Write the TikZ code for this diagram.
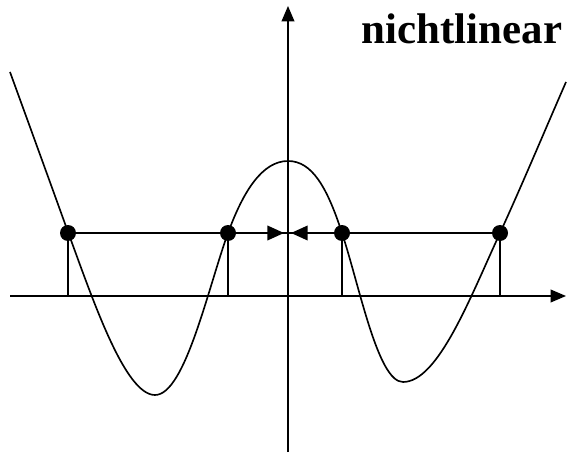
\documentclass[tikz,border=0pt]{standalone}
\usepackage{fontspec}
\setmainfont{Liberation Serif}
\usepackage{tikz}
\usetikzlibrary{arrows.meta}

\begin{document}
\begin{tikzpicture}[
                x=0.03cm, y=-0.03cm,
                axis/.style={-{Triangle[length=0.46cm, width=0.38cm]}, line width=1.4pt},
                curve/.style={line width=1.4pt},
                level/.style={line width=1.3pt},
                push/.style={-{Triangle[length=0.5cm, width=0.44cm]}, line width=1.4pt},
                dot/.style={circle, fill=black, inner sep=0pt, minimum size=0.48cm},
                title/.style={font=\bfseries\fontsize{36.6}{40}\selectfont, anchor=base}
            ]
                \useasboundingbox (0,0) rectangle (567,455);

                % Axes
                \coordinate (xl) at (10,296);
                \coordinate (xr) at (566,296);
                \coordinate (yb) at (288,452);
                \coordinate (yt) at (288,6);
                \draw[axis] (xl) -- (xr);
                \draw[axis] (yb) -- (yt);

                % Nonlinear curve
                \draw[curve] (10,72) .. controls (30,127) and (50,182) .. (68,232)
                    .. controls (93,300) and (125,395) .. (155,395)
                    .. controls (185,395) and (208,288) .. (228,233)
                    .. controls (243,192) and (262,161) .. (288,161)
                    .. controls (312,161) and (327,187) .. (342,233)
                    .. controls (360,288) and (378,382) .. (403,382)
                    .. controls (438,382) and (470,298) .. (500,233)
                    .. controls (522,185) and (545,130) .. (566,82);

                % Intersection points
                \node[dot] (d1) at (68,233) {};
                \node[dot] (d2) at (228,233) {};
                \node[dot] (d3) at (342,233) {};
                \node[dot] (d4) at (500,233) {};
                \coordinate (f1) at (68,296);
                \coordinate (f2) at (228,296);
                \coordinate (f3) at (342,296);
                \coordinate (f4) at (500,296);
                \coordinate (ml) at (284,233);
                \coordinate (mr) at (291,233);

                % Level line and drops
                \draw[level] (d1) -- (d4);
                \foreach \i in {1,...,4}
                    \draw[level] (d\i) -- (f\i);

                % Arrows towards the axis
                \draw[push] (d2) -- (ml);
                \draw[push] (d3) -- (mr);

                \node[title] (lbl) at (462,44) {nichtlinear};
            \end{tikzpicture}
\end{document}
